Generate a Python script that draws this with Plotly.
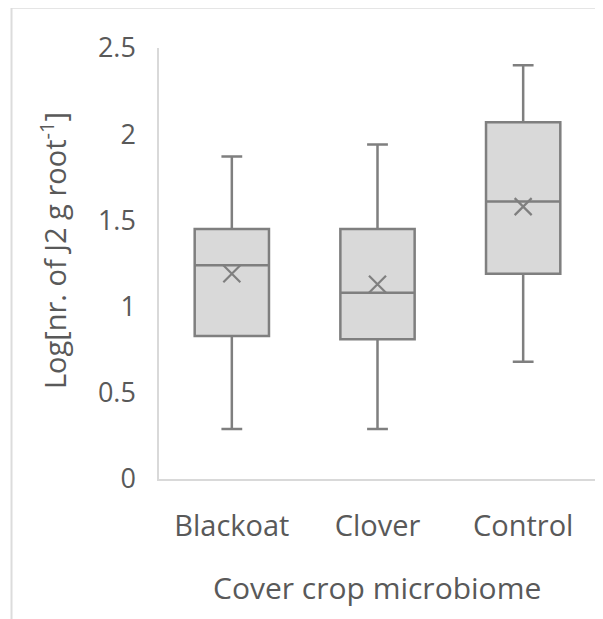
import plotly.graph_objects as go

categories = ["Blackoat", "Clover", "Control"]
lower_whisker = [0.29, 0.29, 0.68]
q1_values = [0.83, 0.81, 1.19]
median_values = [1.24, 1.08, 1.61]
q3_values = [1.45, 1.45, 2.07]
upper_whisker = [1.87, 1.94, 2.40]
mean_values = [1.19, 1.13, 1.58]

y_ticks = [0, 0.5, 1, 1.5, 2, 2.5]
y_tick_text = ["0", "0.5", "1", "1.5", "2", "2.5"]

TEXT = "#595959"
LINE = "#7f7f7f"
FILL = "#d9d9d9"
AXIS = "#d9d9d9"
FONT = "Open Sans"

fig = go.Figure()
fig.add_trace(go.Box(
    x=categories,
    q1=q1_values,
    median=median_values,
    q3=q3_values,
    lowerfence=lower_whisker,
    upperfence=upper_whisker,
    boxpoints=False,
    fillcolor=FILL,
    line=dict(color=LINE, width=2.5),
    whiskerwidth=0.28,
    width=0.51,
    showlegend=False,
))
fig.add_trace(go.Scatter(
    x=categories,
    y=mean_values,
    mode="markers",
    marker=dict(symbol="x-thin", size=17, line=dict(color=LINE, width=2.2)),
    showlegend=False,
))

fig.update_layout(
    width=595, height=611,
    margin=dict(l=151, r=7, t=40, b=140),
    paper_bgcolor="white", plot_bgcolor="white",
    font=dict(family=FONT, size=27, color=TEXT),
    xaxis=dict(
        type="category", range=[-0.5, 2.5],
        showline=True, linecolor=AXIS, linewidth=1.5,
        showgrid=False, zeroline=False, ticks="",
        ticklabelstandoff=20,
        tickfont=dict(family=FONT, size=29, color=TEXT),
    ),
    yaxis=dict(
        range=[0, 2.5], tickvals=y_ticks, ticktext=y_tick_text,
        showline=True, linecolor=AXIS, linewidth=1.5,
        showgrid=False, zeroline=False, ticks="",
        ticklabelstandoff=16,
        tickfont=dict(family=FONT, size=27, color=TEXT),
    ),
    annotations=[
        dict(text="Log[nr. of J2 g root<sup>-1</sup>]", textangle=-90,
             xref="paper", yref="paper", x=-0.2426, y=0.531,
             xanchor="center", yanchor="middle", showarrow=False,
             font=dict(family=FONT, size=29, color=TEXT)),
        dict(text="Cover crop microbiome",
             xref="paper", yref="paper", x=0.498, y=-0.2506,
             xanchor="center", yanchor="middle", showarrow=False,
             font=dict(family=FONT, size=30, color=TEXT)),
    ],
    shapes=[
        dict(type="line", xref="paper", yref="paper",
             x0=-0.3375, x1=-0.3375, y0=-0.5, y1=1.0935,
             line=dict(color="#dcdcdc", width=2)),
        dict(type="line", xref="paper", yref="paper",
             x0=-0.3375, x1=1.2, y0=1.0935, y1=1.0935,
             line=dict(color="#dcdcdc", width=2)),
    ],
)

fig.write_html("out.html")
